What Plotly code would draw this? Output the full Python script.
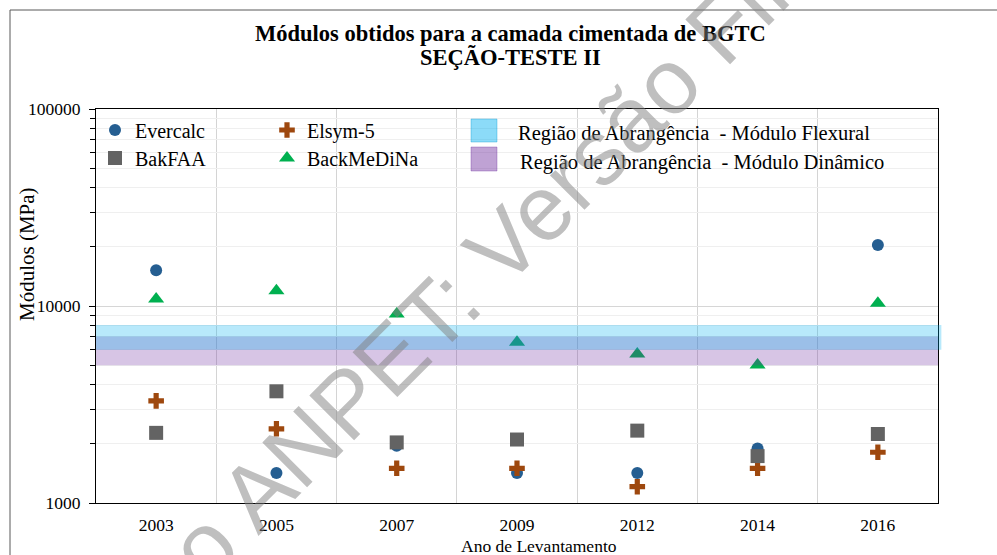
import plotly.graph_objects as go

# ---------------- data ----------------
years = ["2003", "2005", "2007", "2009", "2012", "2014", "2016"]
evercalc = [15200, 1420, 1950, 1420, 1420, 1890, 20400]
elsym5 = [3300, 2380, 1500, 1500, 1210, 1500, 1810]
bakfaa = [2270, 3690, 2030, 2100, 2330, 1730, 2240]
backmedina = [10850, 11960, 9100, 6550, 5700, 5020, 10320]

flexural_band = [6000, 8000]   # Região de Abrangência - Módulo Flexural
dynamic_band = [5000, 7000]    # Região de Abrangência - Módulo Dinâmico

y_tick_vals = [1000, 10000, 100000]
y_tick_text = ["1000", "10000", "100000"]

# ---------------- layout helpers ----------------
W, H = 997, 555
L, R, T, B = 96, 59, 109, 52
PW, PH = W - L - R, H - T - B


def px(xp):
    return (xp - L) / PW


def py(yp):
    return (H - B - yp) / PH


SERIF = "Liberation Serif, Times New Roman, serif"
xi = list(range(len(years)))

fig = go.Figure()

series = [
    ("Evercalc", evercalc, "circle", 12, "#255E91", "legend"),
    ("Elsym-5", elsym5, "cross", 13, "#9E480E", "legend"),
    ("BakFAA", bakfaa, "square", 14, "#636363", "legend2"),
    ("BackMeDiNa", backmedina, "triangle-up", 14, "#00B050", "legend2"),
]
for name, vals, sym, size, color, lg in series:
    fig.add_trace(go.Scatter(
        x=xi, y=vals, mode="markers", name=name, legend=lg,
        marker=dict(symbol=sym, size=size, color=color, line=dict(width=0)),
    ))

# bands (purple under, blue over)
fig.add_shape(type="rect", xref="x domain", yref="y", x0=0, x1=1,
              y0=dynamic_band[0], y1=dynamic_band[1],
              fillcolor="rgba(112,48,160,0.28)", line=dict(width=0), layer="above")
fig.add_shape(type="rect", xref="x domain", yref="y", x0=0, x1=1.004,
              y0=flexural_band[0], y1=flexural_band[1],
              fillcolor="rgba(0,176,240,0.28)", line=dict(width=0), layer="above")

# region legend (manual)
fig.add_shape(type="rect", xref="paper", yref="paper",
              x0=px(471), x1=px(497), y0=py(142), y1=py(119),
              fillcolor="rgba(0,176,240,0.45)", line=dict(color="rgba(0,150,210,0.35)", width=1))
fig.add_shape(type="rect", xref="paper", yref="paper",
              x0=px(471), x1=px(497), y0=py(171), y1=py(147),
              fillcolor="rgba(112,48,160,0.45)", line=dict(color="rgba(112,48,160,0.35)", width=1))
fig.add_annotation(xref="paper", yref="paper", x=px(516), y=py(133), xanchor="left", yanchor="middle",
                   text="Região de Abrangência  - Módulo Flexural", showarrow=False,
                   font=dict(family=SERIF, size=20.5, color="#000000"))
fig.add_annotation(xref="paper", yref="paper", x=px(518), y=py(162), xanchor="left", yanchor="middle",
                   text="Região de Abrangência  - Módulo Dinâmico", showarrow=False,
                   font=dict(family=SERIF, size=20.5, color="#000000"))

# chart title (two lines)
fig.add_annotation(xref="paper", yref="paper", x=px(510.5), y=py(33), xanchor="center", yanchor="middle",
                   text="<b>Módulos obtidos para a camada cimentada de BGTC</b>", showarrow=False,
                   font=dict(family=SERIF, size=22.5, color="#000000"))
fig.add_annotation(xref="paper", yref="paper", x=px(510.5), y=py(57), xanchor="center", yanchor="middle",
                   text="<b>SEÇÃO-TESTE II</b>", showarrow=False,
                   font=dict(family=SERIF, size=22.5, color="#000000"))

# axis titles
fig.add_annotation(xref="paper", yref="paper", x=px(539), y=py(546), xanchor="center", yanchor="middle",
                   text="Ano de Levantamento", showarrow=False,
                   font=dict(family=SERIF, size=17.5, color="#000000"))
fig.add_annotation(xref="paper", yref="paper", x=px(27), y=py(254), xanchor="center", yanchor="middle",
                   text="Módulos (MPa)", textangle=-90, showarrow=False,
                   font=dict(family=SERIF, size=21, color="#000000"))

# outer chart frame
fig.add_shape(type="rect", xref="paper", yref="paper",
              x0=px(10), x1=px(1100), y0=py(700), y1=py(10),
              line=dict(color="#595959", width=1), fillcolor="rgba(0,0,0,0)", layer="below")

# watermark
fig.add_annotation(xref="paper", yref="paper", x=px(496), y=py(253), xanchor="center", yanchor="middle",
                   text="ao ANPET: Versão Final", textangle=-45, showarrow=False,
                   font=dict(family="Liberation Sans, Arial, sans-serif", size=92,
                             color="rgba(128,128,128,0.5)"))

fig.update_layout(
    template="none",
    width=W, height=H,
    margin=dict(l=L, r=R, t=T, b=B, pad=0),
    paper_bgcolor="white", plot_bgcolor="white",
    showlegend=True,
    legend=dict(orientation="h", x=px(95), y=py(130), xanchor="left", yanchor="middle",
                entrywidth=127, entrywidthmode="pixels", bgcolor="rgba(0,0,0,0)",
                font=dict(family=SERIF, size=20, color="#000000"), itemclick=False),
    legend2=dict(orientation="h", x=px(95), y=py(158), xanchor="left", yanchor="middle",
                 entrywidth=127, entrywidthmode="pixels", bgcolor="rgba(0,0,0,0)",
                 font=dict(family=SERIF, size=20, color="#000000"), itemclick=False),
    xaxis=dict(
        range=[-0.5, len(years) - 0.5], tickmode="array", tickvals=xi, ticktext=years,
        showgrid=False, zeroline=False, ticks="", ticklabelstandoff=6,
        showline=True, linecolor="#000000", linewidth=1, mirror=True,
        tickfont=dict(family=SERIF, size=17.5, color="#000000"), automargin=False,
        minor=dict(tick0=0.5, dtick=1, showgrid=True, gridcolor="#d4d4d4", gridwidth=1, ticks=""),
    ),
    yaxis=dict(
        type="log", range=[3, 5], tickmode="array", tickvals=y_tick_vals, ticktext=y_tick_text,
        showgrid=True, gridcolor="#d6d6d6", gridwidth=1, zeroline=False,
        ticks="outside", ticklen=6, tickcolor="#000000", tickwidth=1, ticklabelstandoff=5,
        showline=True, linecolor="#000000", linewidth=1, mirror=True,
        tickfont=dict(family=SERIF, size=17.5, color="#000000"), automargin=False,
        minor=dict(dtick="D1", showgrid=True, gridcolor="#efefef", gridwidth=1,
                   ticks="outside", ticklen=5, tickcolor="#000000"),
    ),
)

fig.write_html("out.html", config={"displayModeBar": False},
               post_script="document.body.style.margin='0';")
